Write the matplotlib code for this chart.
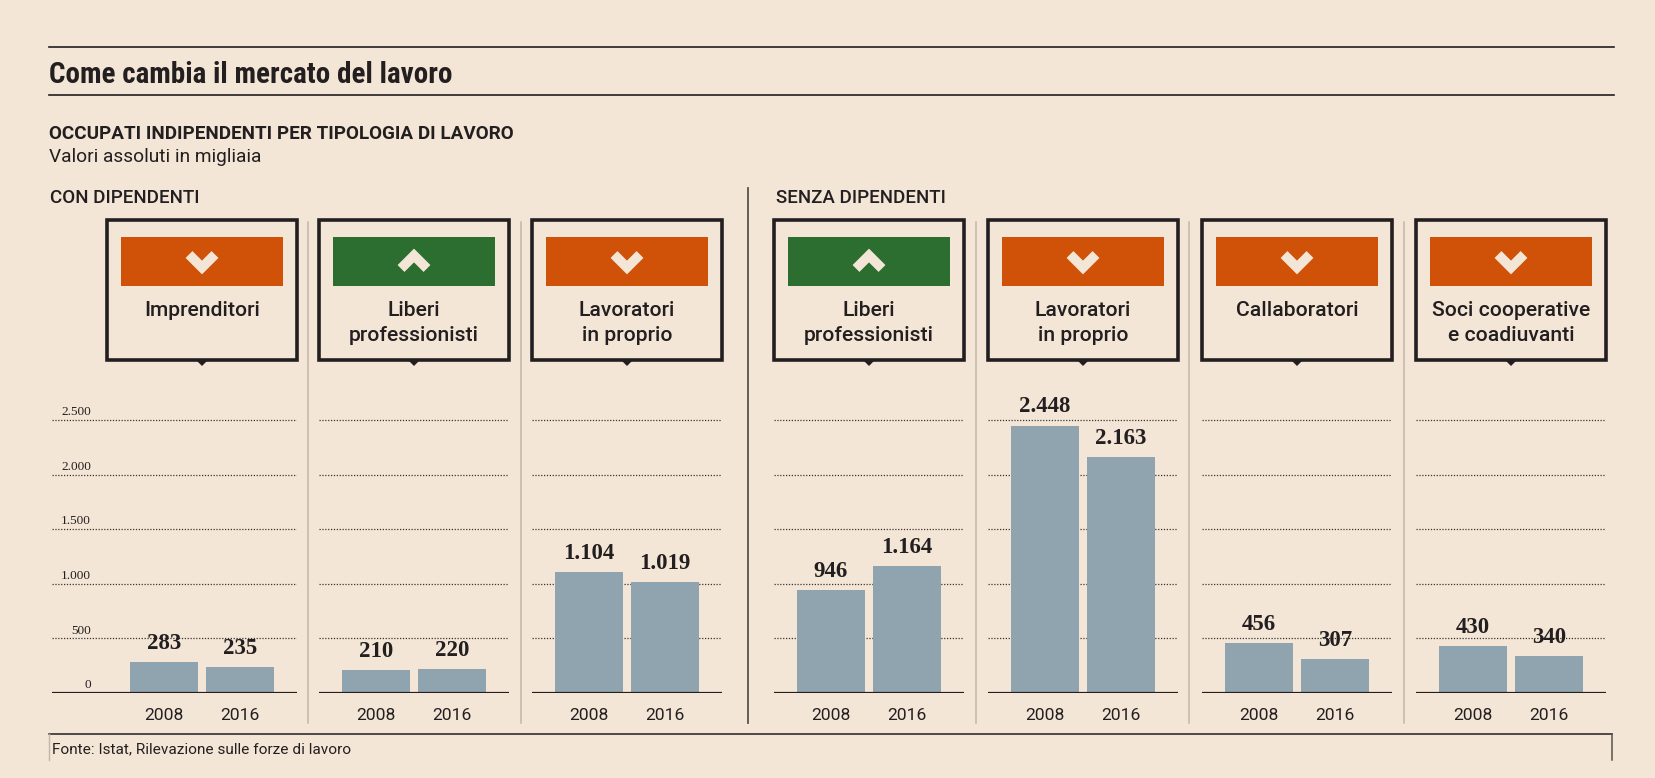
import matplotlib
matplotlib.use("Agg")
import matplotlib.pyplot as plt
from matplotlib import font_manager
from matplotlib.patches import Rectangle, Polygon

# data
years = ["2008", "2016"]
categories = ["Imprenditori", "Liberi\nprofessionisti", "Lavoratori\nin proprio",
              "Liberi\nprofessionisti", "Lavoratori\nin proprio", "Callaboratori",
              "Soci cooperative\ne coadiuvanti"]
values_2008 = [283, 210, 1104, 946, 2448, 456, 430]
values_2016 = [235, 220, 1019, 1164, 2163, 307, 340]
y_ticks = [0, 500, 1000, 1500, 2000, 2500]

names = {f.name for f in font_manager.fontManager.ttflist}
def pick(*cands):
    for c in cands:
        if c in names:
            return c
    return "DejaVu Sans"

cond = pick("Roboto Condensed", "Liberation Sans Narrow", "Roboto")
sans = pick("Roboto", "Open Sans", "DejaVu Sans")
serif = pick("Liberation Serif", "DejaVu Serif")

bg = "#F4E6D6"
ink = "#231F20"
orange = "#CF5208"
green = "#2B6E30"
bar_col = "#8FA4AF"
sep_col = "#C2B6A8"

W, H = 1656, 778
fig = plt.figure(figsize=(W / 100, H / 100), dpi=100, facecolor=bg)

over = fig.add_axes([0, 0, 1, 1], zorder=0)
over.set_xlim(0, W)
over.set_ylim(H, 0)
over.axis("off")
over.patch.set_alpha(0)

def fmt(v):
    return f"{v:,}".replace(",", ".")

# header
x0 = 49.5
over.plot([x0, 1614], [46.5, 46.5], color=ink, lw=1.2)
over.plot([x0, 1614], [95, 95], color=ink, lw=1.2)
over.text(x0, 83, "Come cambia il mercato del lavoro", fontsize=21, fontweight="bold",
          family=cond, color=ink, va="baseline")
over.text(x0, 139, "OCCUPATI INDIPENDENTI PER TIPOLOGIA DI LAVORO", fontsize=13.6,
          fontweight="bold", family=sans, color=ink, va="baseline")
over.text(x0, 162, "Valori assoluti in migliaia", fontsize=13.8, family=sans,
          color=ink, va="baseline")
over.text(x0 + 1, 203, "CON DIPENDENTI", fontsize=13.5, fontweight=500, family=sans,
          color=ink, va="baseline")
over.text(776, 203, "SENZA DIPENDENTI", fontsize=13.5, fontweight=500, family=sans,
          color=ink, va="baseline")

# separators
over.plot([748, 748], [188, 723], color="#5A534D", lw=1.3)
for sx in [308, 521, 976, 1189, 1404]:
    over.plot([sx, sx], [222, 723], color=sep_col, lw=1.1)

# source
over.plot([x0, 1612], [734, 734], color=ink, lw=1.1)
over.plot([1612, 1612], [734, 760], color="#5A534D", lw=1.1)
over.plot([x0, x0], [734, 760], color=sep_col, lw=1.0)
over.text(x0 + 3, 753, "Fonte: Istat, Rilevazione sulle forze di lavoro", fontsize=11.1,
          family=sans, color=ink, va="baseline")

box_left = [107, 319, 532, 774, 988, 1202, 1416]
box_w = 190
box_top, box_bot = 220, 360
ax_top, ax_zero = 380, 693
px_per_unit = 273 / 2500
step = 76
bw = 68

for i, cat in enumerate(categories):
    bl = box_left[i]
    cx = bl + box_w / 2
    up = values_2016[i] > values_2008[i]

    # box + pointer
    over.add_patch(Rectangle((bl, box_top), box_w, box_bot - box_top, fill=False,
                             ec=ink, lw=2.6, joinstyle="miter"))
    over.add_patch(Polygon([[cx - 6, box_bot], [cx + 6, box_bot], [cx, box_bot + 6]],
                           closed=True, fc=ink, ec="none"))
    over.add_patch(Rectangle((bl + 14, 237), box_w - 28, 49,
                             fc=green if up else orange, ec="none"))
    cy = 261.5
    if up:
        pts = [[cx - 13, cy + 7], [cx, cy - 6], [cx + 13, cy + 7]]
    else:
        pts = [[cx - 13, cy - 7], [cx, cy + 6], [cx + 13, cy - 7]]
    over.plot([p[0] for p in pts], [p[1] for p in pts], color=bg, lw=7,
              solid_capstyle="butt", solid_joinstyle="miter")
    for k, line in enumerate(cat.split("\n")):
        over.text(cx, 316 + 25 * k, line, fontsize=15.2, fontweight=500, family=sans,
                  color=ink, ha="center", va="baseline")

    # bar panel
    left = 52 if i == 0 else bl
    right = bl + box_w
    ax = fig.add_axes([left / W, 1 - ax_zero / H, (right - left) / W, (ax_zero - ax_top) / H],
                      zorder=1)
    ax.patch.set_alpha(0)
    ax.set_xlim((left - cx) / step + 0.5, (right - cx) / step + 0.5)
    ax.set_ylim(0, (ax_zero - ax_top) / px_per_unit)
    ax.axis("off")
    for t in y_ticks[1:]:
        ax.axhline(t, color="#3A3532", lw=0.9, ls=(0, (1, 1.3)), zorder=1)
    ax.axhline(0, color=ink, lw=1.6, zorder=3)
    vals = [values_2008[i], values_2016[i]]
    ax.bar([0, 1], vals, width=bw / step, color=bar_col, zorder=2)
    for x, v in zip([0, 1], vals):
        ax.annotate(fmt(v), (x, v), xytext=(0, 9.5), textcoords="offset points",
                    ha="center", va="baseline", fontsize=16.5, fontweight="bold",
                    family=serif, color=ink, zorder=4)
        ax.annotate(years[x], (x, 0), xytext=(0, -16.5), textcoords="offset points",
                    ha="center", va="center", fontsize=12.6, family=sans, color=ink,
                    annotation_clip=False)
    if i == 0:
        for t in y_ticks:
            ax.annotate(fmt(t), ((91 - cx) / step + 0.5, t), xytext=(0, 3.5),
                        textcoords="offset points", ha="right", va="baseline",
                        fontsize=9.5, family=serif, color=ink)

fig.savefig("out.png", dpi=100, facecolor=bg)
